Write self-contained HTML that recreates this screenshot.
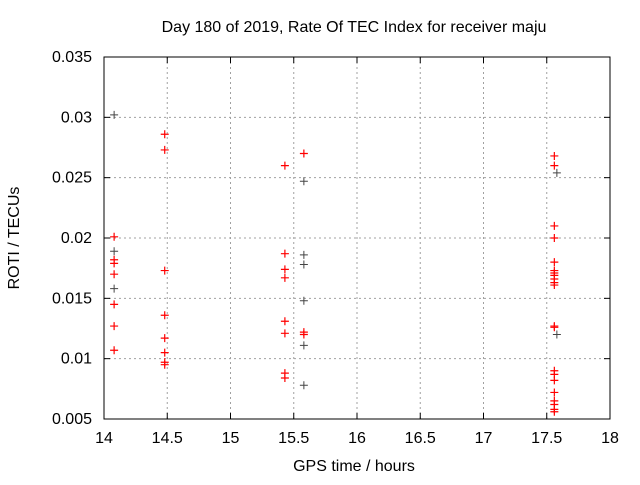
<!DOCTYPE html>
<html><head><meta charset="utf-8"><style>
body{margin:0;background:#fff;font-family:"Liberation Sans",sans-serif}
svg text{font-family:"Liberation Sans",sans-serif;font-size:16px;fill:#000}
</style></head><body>
<svg id="chart" width="640" height="480" xmlns="http://www.w3.org/2000/svg">
<rect width="640" height="480" fill="#fff"/>
<text x="354" y="32" text-anchor="middle">Day 180 of 2019, Rate Of TEC Index for receiver maju</text>
<text x="354" y="471" text-anchor="middle">GPS time / hours</text>
<text transform="translate(19,238) rotate(-90)" text-anchor="middle">ROTI / TECUs</text>
<g id="grid"></g><g id="ticks"></g><g id="marks"></g>
<rect x="104" y="57" width="506" height="362" fill="none" stroke="#000" stroke-width="1"/>
</svg>
<script>
const xTicks=[14,14.5,15,15.5,16,16.5,17,17.5,18];
const yTicks=[0.005,0.01,0.015,0.02,0.025,0.03,0.035];
const yTickLabels=["0.005","0.01","0.015","0.02","0.025","0.03","0.035"];
const redX=[14.08,14.08,14.08,14.08,14.08,14.08,14.08,
14.48,14.48,14.48,14.48,14.48,14.48,14.48,14.48,
15.43,15.43,15.43,15.43,15.43,15.43,15.43,15.43,
15.58,15.58,15.58,
17.56,17.56,17.56,17.56,17.56,17.56,17.56,17.56,17.56,17.56,17.56,17.56,17.56,17.56,17.56,17.56,17.56,17.56,17.56,17.56,17.56];
const redY=[0.0201,0.0182,0.0179,0.0170,0.0145,0.0127,0.0107,
0.0286,0.0273,0.0173,0.0136,0.0117,0.0105,0.0097,0.0095,
0.0260,0.0187,0.0174,0.0167,0.0131,0.0121,0.0088,0.0084,
0.0270,0.0122,0.0120,
0.0268,0.0260,0.0210,0.0200,0.0180,0.0173,0.0171,0.0169,0.0166,0.0163,0.0161,0.0127,0.0126,0.0090,0.0087,0.0082,0.0072,0.0065,0.0062,0.0058,0.0056];
const blackX=[14.08,14.08,14.08,15.58,15.58,15.58,15.58,15.58,15.58,17.58,17.58];
const blackY=[0.0302,0.0189,0.0158,0.0247,0.0186,0.0178,0.0148,0.0111,0.0078,0.0254,0.0120];
const L=104,R=610,T=57,B=419;
const sx=v=>L+(v-14)/(18-14)*(R-L);
const sy=v=>B-(v-0.005)/(0.035-0.005)*(B-T);
const NS="http://www.w3.org/2000/svg";
function mk(tag,attrs,parent){const e=document.createElementNS(NS,tag);for(const k in attrs)e.setAttribute(k,attrs[k]);parent.appendChild(e);return e;}
const grid=document.getElementById('grid'),ticks=document.getElementById('ticks'),marks=document.getElementById('marks');
xTicks.forEach((t,i)=>{const x=sx(t);
 if(i>0&&i<xTicks.length-1){const g=mk('line',{x1:x,x2:x,y1:T,y2:B,stroke:'#a0a0a0','stroke-dasharray':'2,3'},grid);
 
 }
 mk('line',{x1:x,x2:x,y1:B,y2:B-6,stroke:'#000'},ticks);mk('line',{x1:x,x2:x,y1:T,y2:T+6,stroke:'#000'},ticks);
 const tx=mk('text',{x:x,y:B+24,'text-anchor':'middle'},ticks);tx.textContent=String(t);
 
 });
yTicks.forEach((t,i)=>{const y=sy(t);
 if(i>0&&i<yTicks.length-1){const g=mk('line',{x1:L,x2:R,y1:y,y2:y,stroke:'#a0a0a0','stroke-dasharray':'2,3'},grid);
 
 }
 mk('line',{x1:L,x2:L+6,y1:y,y2:y,stroke:'#000'},ticks);mk('line',{x1:R,x2:R-6,y1:y,y2:y,stroke:'#000'},ticks);
 const tx=mk('text',{x:L-12,y:y+5,'text-anchor':'end'},ticks);tx.textContent=yTickLabels[i];
 
 });
function plus(xv,yv,col,w,name){const x=sx(xv),y=sy(yv);
 const p=mk('path',{d:`M${x-4},${y}H${x+4}M${x},${y-4}V${y+4}`,stroke:col,'stroke-width':w,fill:'none'},marks);
 
 }
blackX.forEach((x,i)=>plus(x,blackY[i],'#444',1,'black-point'));
redX.forEach((x,i)=>plus(x,redY[i],'#ff0000',1.2,'red-point'));
</script>
</body></html>
